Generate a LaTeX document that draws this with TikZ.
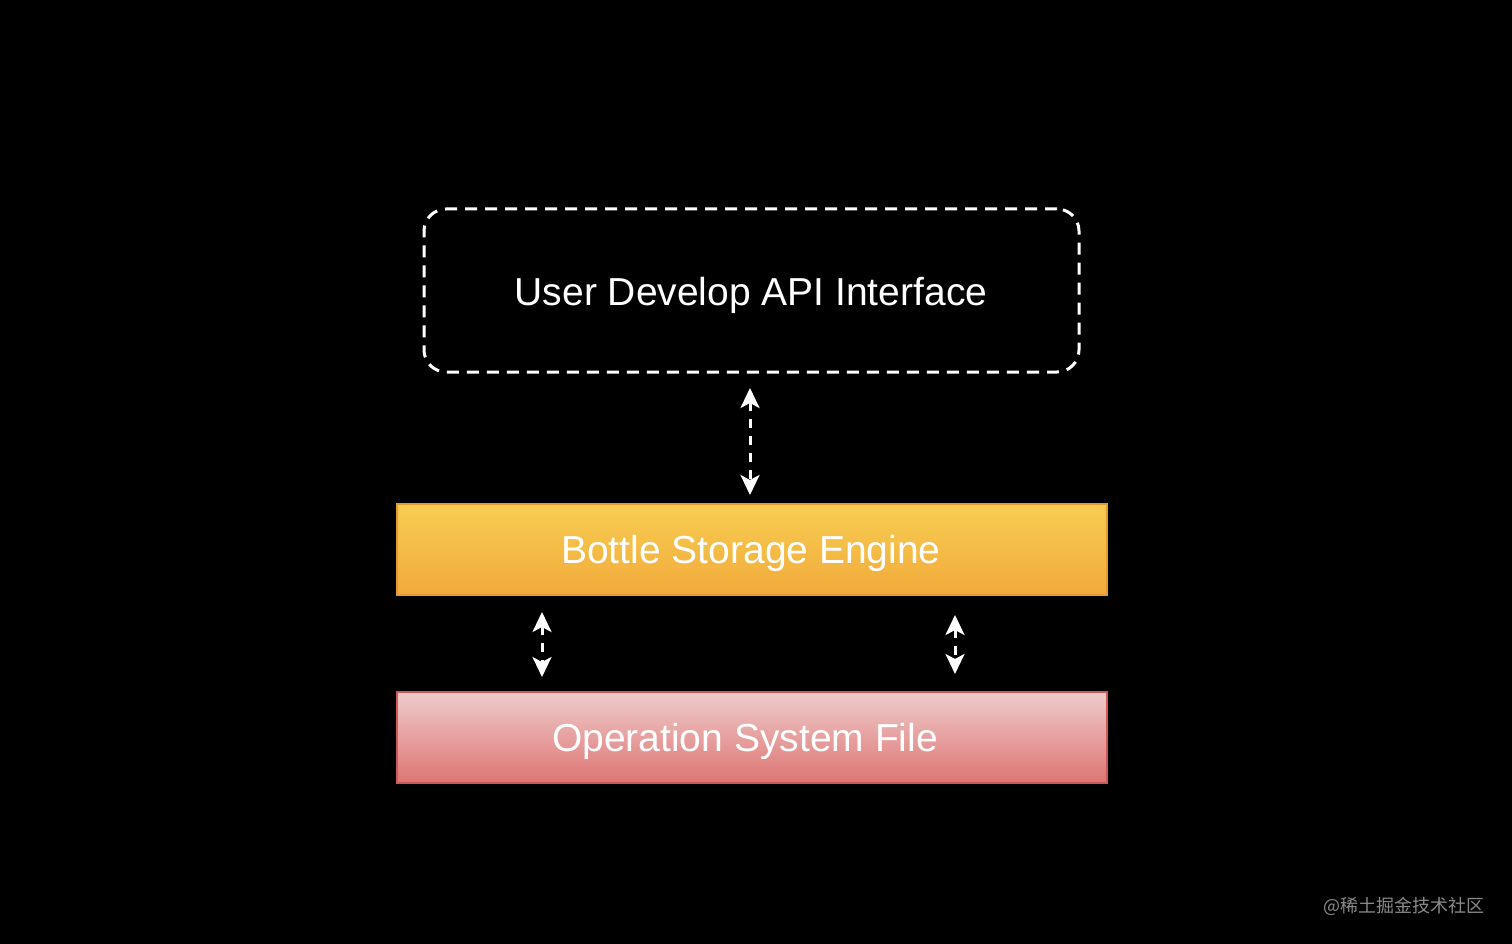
\documentclass[tikz,border=0pt]{standalone}
\usepackage{fontspec}
\setmainfont{Liberation Sans}
\newfontfamily\cjkfont{Noto Sans CJK SC}
\usetikzlibrary{arrows.meta}
\definecolor{ortop}{HTML}{F7CD52}
\definecolor{orbot}{HTML}{F2AA3A}
\definecolor{orline}{HTML}{E39A2E}
\definecolor{pktop}{HTML}{EFCBCB}
\definecolor{pkbot}{HTML}{DD7573}
\definecolor{pkline}{HTML}{C95A58}
\definecolor{wmgray}{HTML}{8A8A8A}
\tikzset{
  lbl/.style={text=white, font=\fontsize{39}{44}\selectfont},
  layer/.style={minimum width=710pt, minimum height=91pt, line width=1.5pt, inner sep=0pt},
  dashbox/.style={draw=white, line width=3pt, dash pattern=on 12pt off 8pt, rounded corners=22pt, minimum width=655pt, minimum height=163pt, inner sep=0pt},
  biarrow/.style={draw=white, line width=3pt, dash pattern=on 9pt off 8pt, {Stealth[length=20pt,width=19pt,inset=5pt]}-{Stealth[length=20pt,width=19pt,inset=5pt]}}
}
\begin{document}
\begin{tikzpicture}[x=1pt,y=-1pt]
\fill[black] (0,0) rectangle (1512,944);
\useasboundingbox (0,0) rectangle (1512,944);
\node[dashbox] (api) at (751.5,290.5) {};
\node[lbl] (apit) at (751,295) {User Develop API Interface};
\node[layer, draw=orline, top color=ortop, bottom color=orbot] (bse) at (752,549.5) {};
\node[lbl] (bset) at (751,553) {Bottle Storage Engine};
\node[layer, draw=pkline, top color=pktop, bottom color=pkbot] (osf) at (752,737.5) {};
\node[lbl] (osft) at (745,741) {Operation System File};
\coordinate (a1t) at (750,388);
\coordinate (a1b) at (750,495);
\coordinate (a2t) at (542,612);
\coordinate (a2b) at (542,677);
\coordinate (a3t) at (955,615);
\coordinate (a3b) at (955,674);
\draw[biarrow] (a1t) -- (a1b);
\draw[biarrow] (a2t) -- (a2b);
\draw[biarrow] (a3t) -- (a3b);
\node[text=wmgray, font=\cjkfont\fontsize{18}{20}\selectfont, anchor=east, inner sep=0pt] (wm) at (1485,906) {@稀土掘金技术社区};
\end{tikzpicture}
\end{document}
